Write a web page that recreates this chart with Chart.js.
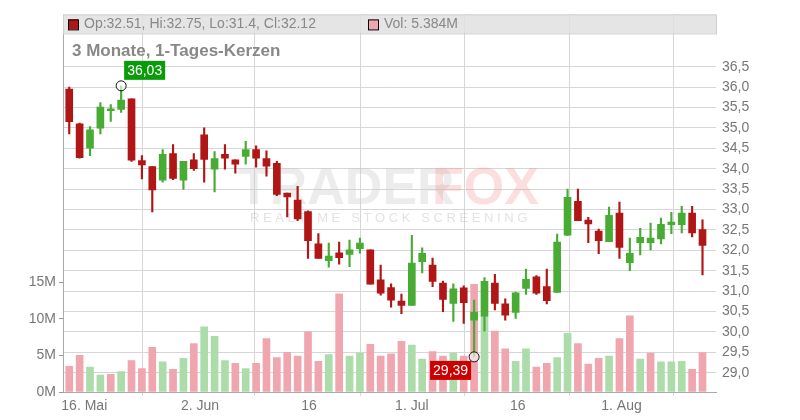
<!DOCTYPE html>
<html>
<head>
<meta charset="utf-8">
<script src="https://cdn.jsdelivr.net/npm/chart.js@4"></script>
<style>
  body { margin: 0; background: #fff; }
  #wrap { width: 800px; height: 420px; }
</style>
</head>
<body>
<div id="wrap"><canvas id="chart"></canvas></div>
<script>
// daily candles, mid May .. early Aug
const opens  = [35.95,35.10,34.50,34.99,35.42,35.45,35.71,34.20,34.05,33.72,34.37,33.72,34.22,34.83,33.99,34.35,34.22,34.30,34.47,34.25,
                34.13,33.40,33.23,32.95,32.16,31.75,31.94,31.90,32.04,32.01,31.28,31.09,30.76,30.65,31.72,31.64,31.20,30.70,31.08,30.29,
                30.38,31.20,30.69,30.48,31.07,31.35,31.11,30.97,32.37,33.20,32.74,32.47,32.21,32.91,31.70,32.19,32.19,32.28,32.63,32.63,
                32.91,32.51];
const highs  = [36.00,35.12,35.03,35.62,35.57,36.03,35.71,34.32,34.05,34.47,34.59,34.18,34.37,35.00,34.42,34.59,34.22,34.67,34.56,34.44,
                34.18,33.40,33.57,32.97,32.41,32.18,32.20,32.25,32.30,32.01,31.64,31.18,30.93,32.37,32.06,31.81,31.25,31.18,31.13,30.78,
                31.33,31.41,30.81,30.98,31.54,31.38,31.54,32.40,33.50,33.50,32.81,32.52,33.06,33.18,32.30,32.54,32.67,32.79,32.93,33.08,
                33.08,32.75];
const lows   = [34.85,34.26,34.32,34.85,35.16,35.38,34.18,33.75,32.94,33.67,33.73,33.49,33.96,33.67,33.43,33.99,33.89,34.11,34.04,33.82,
                33.34,32.82,32.73,31.80,31.80,31.59,31.66,31.60,31.93,31.17,30.90,30.61,30.45,30.65,31.45,31.11,30.50,30.26,30.21,29.39,
                30.02,30.54,30.29,30.33,30.92,30.92,30.69,30.97,32.36,32.73,32.19,31.92,32.21,31.80,31.50,31.89,32.01,32.16,32.41,32.43,
                32.33,31.40];
const closes = [35.15,34.27,34.95,35.51,35.46,35.68,34.21,34.09,33.48,34.35,33.76,34.18,34.00,34.23,34.25,34.26,34.11,34.47,34.26,34.06,
                33.37,33.31,32.77,32.24,31.80,31.86,31.82,32.01,32.18,31.17,30.95,30.78,30.65,31.69,31.93,31.24,30.80,31.06,30.72,30.49,
                31.24,30.70,30.41,30.96,31.29,30.95,30.77,32.20,33.30,32.73,32.65,32.24,32.86,32.07,31.93,32.32,32.30,32.64,32.69,32.91,
                32.43,32.12];
// volume in millions
const volumes = [3.5,5.0,3.4,2.3,2.4,2.8,4.3,3.2,6.1,4.1,3.1,4.6,6.6,8.9,7.6,4.3,3.9,3.2,3.9,7.3,
                 4.7,5.4,4.9,8.2,4.2,5.1,13.4,4.9,5.3,6.5,4.9,5.2,6.9,6.4,4.5,5.5,4.9,5.3,4.9,14.7,
                 10.2,8.3,5.9,4.2,5.9,3.4,3.9,4.7,8.0,6.6,3.8,4.6,4.9,7.3,10.4,4.5,5.3,4.1,4.1,4.2,
                 3.1,5.384];
const dateTickPos = [1.45, 12.6, 23.1, 33.0, 43.2, 53.2];
const dateTickLabels = ["16. Mai", "2. Jun", "16", "1. Jul", "16", "1. Aug"];
const priceTicks = [29.0,29.5,30.0,30.5,31.0,31.5,32.0,32.5,33.0,33.5,34.0,34.5,35.0,35.5,36.0,36.5];
const volTicks = [0, 5, 10, 15];

const RED = "#b01616", GREEN = "#48ab34", VRED = "#efa6ae", VGREEN = "#acdcaa";

const candleCol = opens.map((o, i) => closes[i] < o ? RED : GREEN);
const volCol = closes.map((c, i) => (i > 0 && c >= closes[i - 1]) ? VGREEN : VRED);

const idx = closes.map((c, i) => i);
const hiIdx = highs.indexOf(Math.max(...highs));
const loIdx = lows.indexOf(Math.min(...lows));

const fmt = v => v.toFixed(2).replace(".", ",");

const overlay = {
  id: "overlay",
  beforeDatasetsDraw(chart) {
    const { ctx } = chart;
    ctx.save();
    // watermark
    ctx.textBaseline = "middle";
    ctx.font = "bold 52px 'Liberation Sans', Arial";
    ctx.fillStyle = "rgba(200,200,200,0.35)";
    ctx.fillText("TRADER", 238, 190);
    ctx.fillStyle = "rgba(240,140,140,0.28)";
    ctx.fillText("FOX", 432, 190);
    ctx.font = "13px 'Liberation Sans', Arial";
    ctx.fillStyle = "rgba(190,190,190,0.45)";
    ctx.fillText("R E A L T I M E   S T O C K   S C R E E N I N G", 250, 218);
    ctx.restore();
  },
  afterDraw(chart) {
    const { ctx, chartArea: a, scales } = chart;
    ctx.save();
    // header bar
    ctx.fillStyle = "rgba(224,224,224,0.85)";
    ctx.fillRect(a.left, a.top, a.right - a.left, 19);
    ctx.strokeStyle = "#cfcfcf";
    ctx.strokeRect(a.left + 0.5, a.top + 0.5, a.right - a.left, 19);
    ctx.font = "14px 'Liberation Sans', Arial";
    ctx.textBaseline = "middle";
    ctx.fillStyle = RED;
    ctx.fillRect(a.left + 5, a.top + 5, 10, 10);
    ctx.strokeStyle = "#000";
    ctx.strokeRect(a.left + 5.5, a.top + 5.5, 10, 10);
    ctx.fillStyle = "#888";
    const n = closes.length - 1;
    ctx.fillText("Op:" + opens[n] + ", Hi:" + highs[n] + ", Lo:" + lows[n] + ", Cl:" + closes[n], a.left + 21, a.top + 10);
    ctx.fillStyle = VRED;
    ctx.fillRect(a.left + 305, a.top + 5, 10, 10);
    ctx.strokeRect(a.left + 305.5, a.top + 5.5, 10, 10);
    ctx.fillStyle = "#888";
    ctx.fillText("Vol: 5.384M", a.left + 321, a.top + 10);
    // title
    ctx.font = "bold 17px 'Liberation Sans', Arial";
    ctx.fillText("3 Monate, 1-Tages-Kerzen", a.left + 9, a.top + 37);

    // high / low markers
    const x = scales.x, y = scales.y;
    const hx = x.getPixelForValue(hiIdx), hy = y.getPixelForValue(highs[hiIdx]);
    const lx = x.getPixelForValue(loIdx), ly = y.getPixelForValue(lows[loIdx]);
    ctx.lineWidth = 1;
    ctx.strokeStyle = "#111";
    ctx.fillStyle = "rgba(255,255,255,0.6)";
    [[hx, hy], [lx, ly]].forEach(([px, py]) => {
      ctx.beginPath(); ctx.arc(px, py, 5, 0, Math.PI * 2); ctx.fill(); ctx.stroke();
    });
    ctx.font = "14px 'Liberation Sans', Arial";
    let t = fmt(highs[hiIdx]), w = ctx.measureText(t).width + 6;
    ctx.fillStyle = "#0a9a0a";
    ctx.fillRect(hx + 3, hy - 25, w, 19);
    ctx.fillStyle = "#fff";
    ctx.fillText(t, hx + 6, hy - 15);
    t = fmt(lows[loIdx]); w = ctx.measureText(t).width + 6;
    ctx.fillStyle = "#cc0000";
    ctx.fillRect(lx - w - 3, ly + 4, w, 19);
    ctx.fillStyle = "#fff";
    ctx.fillText(t, lx - w, ly + 14);
    ctx.restore();
  }
};

new Chart(document.getElementById("chart"), {
  data: {
    datasets: [
      {
        type: "bar", label: "Vol", yAxisID: "yv", grouped: false,
        data: idx.map(i => ({ x: i, y: volumes[i] })),
        backgroundColor: volCol, barThickness: 7, order: 3
      },
      {
        type: "bar", label: "Wick", yAxisID: "y", grouped: false,
        data: idx.map(i => ({ x: i, y: [lows[i], highs[i]] })),
        backgroundColor: candleCol, barThickness: 1.5, order: 2
      },
      {
        type: "bar", label: "Body", yAxisID: "y", grouped: false,
        data: idx.map(i => ({ x: i, y: [opens[i], closes[i]] })),
        backgroundColor: candleCol, barThickness: 7, minBarLength: 2, order: 1
      }
    ]
  },
  options: {
    responsive: true,
    maintainAspectRatio: false,
    animation: false,
    layout: { padding: { top: 11 } },
    plugins: { legend: { display: false }, tooltip: { enabled: false } },
    scales: {
      x: {
        type: "linear", min: -0.6, max: 62.3, offset: false,
        afterBuildTicks: s => { s.ticks = dateTickPos.map(v => ({ value: v })); },
        afterFit: s => { s.height = 28; },
        ticks: {
          autoSkip: false, maxRotation: 0, color: "#777", padding: 2,
          font: { size: 14, family: "'Liberation Sans', Arial" },
          callback: (v, i) => dateTickLabels[i]
        },
        grid: { color: "#d6d6d6", drawTicks: true, tickLength: 4 },
        border: { color: "#aaa" }
      },
      y: {
        position: "right", min: 28.53, max: 37.78,
        afterBuildTicks: s => { s.ticks = priceTicks.map(v => ({ value: v })); },
        afterFit: s => { s.width = 84; },
        ticks: {
          color: "#777", padding: 6,
          font: { size: 14, family: "'Liberation Sans', Arial" },
          callback: v => v.toFixed(1).replace(".", ",")
        },
        grid: { color: "#d6d6d6", tickLength: 0 },
        border: { display: false }
      },
      yv: {
        position: "left", min: 0, max: 51.5,
        afterBuildTicks: s => { s.ticks = volTicks.map(v => ({ value: v })); },
        afterFit: s => { s.width = 63; },
        ticks: {
          color: "#777", padding: 3,
          font: { size: 14, family: "'Liberation Sans', Arial" },
          callback: v => v + "M"
        },
        grid: { drawOnChartArea: false, color: "#999", tickLength: 4 },
        border: { color: "#aaa" }
      }
    }
  },
  plugins: [overlay]
});
</script>
</body>
</html>
